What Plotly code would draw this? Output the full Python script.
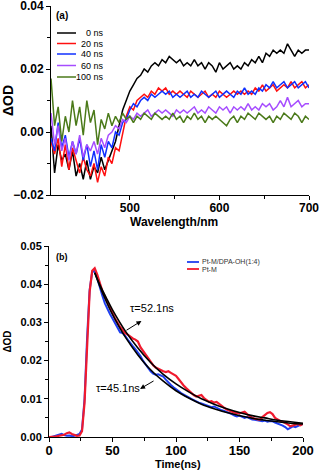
import plotly.graph_objects as go

# ---- panel (a): transient absorption spectra ----
wavelength = [412, 416, 420, 424, 428, 432, 436, 440, 444, 448, 452, 456, 460, 464, 468,
              472, 476, 480, 484, 488, 492, 496, 500, 504, 508, 512, 516, 520, 524, 528,
              532, 536, 540, 544, 548, 552, 556, 560, 564, 568, 572, 576, 580, 584, 588,
              592, 596, 600, 604, 608, 612, 616, 620, 624, 628, 632, 636, 640, 644, 648,
              652, 656, 660, 664, 668, 672, 676, 680, 684, 688, 692, 696, 700]

# delta OD in units of 1e-3
od_0ns = [2, -13, -4, -9, -7, -12, -6, -14, -10, -15, -9, -15, -11, -13, -8,
          -12, -9, -6, -3, 2, 7, 10, 13, 15, 17, 18, 20, 19, 21, 22,
          21, 23, 22, 24, 23, 22, 23, 21, 22, 21, 23, 21, 22, 20, 22,
          21, 19, 22, 20, 21, 22, 20, 21, 20, 22, 21, 23, 22, 24, 22,
          25, 24, 26, 25, 26, 25, 28, 26, 24, 26, 25, 26, 26]
od_20ns = [-3, -7, -2, -11, -4, -12, -5, -9, -13, -8, -12, -14, -10, -16, -11,
           -14, -8, -10, -5, -6, -1, 5, 8, 7, 10, 11, 12, 11, 13, 12,
           14, 13, 14, 12, 13, 12, 13, 12, 11, 13, 12, 11, 12, 13, 11,
           12, 11, 13, 12, 11, 12, 13, 12, 13, 12, 13, 12, 14, 13, 15,
           13, 14, 15, 13, 14, 15, 14, 16, 14, 15, 16, 14, 15]
od_40ns = [-2, -6, 3, -5, -1, -8, -3, -7, -2, -9, -4, -11, -6, -12, -4,
           -8, -3, -5, 0, -1, 3, 4, 7, 9, 8, 10, 11, 10, 12, 11,
           12, 13, 12, 13, 11, 12, 11, 12, 13, 11, 12, 11, 13, 12, 11,
           12, 13, 11, 12, 13, 12, 11, 13, 12, 14, 12, 13, 12, 14, 13,
           15, 14, 16, 14, 15, 16, 14, 15, 16, 14, 15, 16, 14]
od_60ns = [6, -4, 2, -6, -2, -9, -3, -7, -1, -8, -4, -6, -3, -7, -2,
           -5, -1, 0, 2, 1, 4, 3, 5, 4, 6, 5, 6, 7, 5, 6,
           7, 6, 7, 6, 5, 7, 6, 7, 6, 7, 8, 6, 7, 6, 8,
           7, 6, 8, 7, 8, 6, 8, 7, 8, 7, 9, 7, 8, 7, 9,
           8, 9, 7, 8, 10, 8, 11, 8, 9, 10, 8, 9, 9]
od_100ns = [17, 2, 8, -3, 5, 0, 10, 2, 8, -1, 10, 3, 7, -4, 4,
            1, 6, 2, 5, 3, 6, 4, 5, 3, 5, 4, 6, 5, 4, 6,
            5, 4, 5, 4, 6, 4, 5, 3, 5, 4, 6, 4, 5, 3, 5,
            4, 5, 4, 3, 2, 4, 5, 3, 5, 4, 6, 5, 4, 6, 5,
            4, 5, 3, 5, 4, 6, 5, 4, 6, 5, 3, 5, 4]

spectra = [od_0ns, od_20ns, od_40ns, od_60ns, od_100ns]
spectra_names = ['0 ns', '20 ns', '40 ns', '60 ns', '100 ns']
spectra_colors = ['#000000', '#ff1010', '#1030ff', '#a64dff', '#4b7a1a']

# ---- panel (b): kinetics ----
time_ns = list(range(0, 201, 2))
decay_ptm = [0.0000, 0.0000, 0.0001, 0.0002, 0.0003, 0.0004, 0.0006, 0.0010, 0.0012, 0.0008,
             0.0005, 0.0003, 0.0004, 0.0015, 0.0090, 0.0250, 0.0380, 0.0435, 0.0442, 0.0425,
             0.0400, 0.0382, 0.0368, 0.0352, 0.0338, 0.0325, 0.0310, 0.0298, 0.0288, 0.0280,
             0.0272, 0.0268, 0.0262, 0.0258, 0.0255, 0.0250, 0.0235, 0.0225, 0.0215, 0.0205,
             0.0195, 0.0188, 0.0182, 0.0178, 0.0175, 0.0172, 0.0170, 0.0172, 0.0168, 0.0165,
             0.0160, 0.0152, 0.0142, 0.0135, 0.0128, 0.0122, 0.0115, 0.0110, 0.0106, 0.0108,
             0.0110, 0.0102, 0.0096, 0.0092, 0.0094, 0.0090, 0.0092, 0.0086, 0.0080, 0.0076,
             0.0072, 0.0068, 0.0066, 0.0064, 0.0062, 0.0062, 0.0064, 0.0066, 0.0060, 0.0055,
             0.0050, 0.0048, 0.0046, 0.0045, 0.0052, 0.0058, 0.0063, 0.0065, 0.0060, 0.0050,
             0.0045, 0.0042, 0.0040, 0.0037, 0.0033, 0.0028, 0.0030, 0.0032, 0.0034, 0.0031,
             0.0035]
decay_ptm_dpa = [0.0000, 0.0000, 0.0002, 0.0004, 0.0006, 0.0008, 0.0005, 0.0003, 0.0004, 0.0002,
                 0.0003, 0.0006, 0.0008, 0.0020, 0.0100, 0.0260, 0.0385, 0.0432, 0.0435, 0.0415,
                 0.0390, 0.0370, 0.0350, 0.0335, 0.0322, 0.0310, 0.0298, 0.0285, 0.0274, 0.0272,
                 0.0265, 0.0255, 0.0245, 0.0238, 0.0230, 0.0222, 0.0212, 0.0200, 0.0190, 0.0180,
                 0.0172, 0.0166, 0.0163, 0.0164, 0.0162, 0.0158, 0.0150, 0.0142, 0.0136, 0.0130,
                 0.0126, 0.0120, 0.0115, 0.0112, 0.0108, 0.0104, 0.0100, 0.0096, 0.0094, 0.0090,
                 0.0088, 0.0086, 0.0082, 0.0080, 0.0078, 0.0080, 0.0076, 0.0072, 0.0070, 0.0068,
                 0.0066, 0.0063, 0.0060, 0.0056, 0.0054, 0.0056, 0.0052, 0.0050, 0.0052, 0.0048,
                 0.0046, 0.0045, 0.0044, 0.0042, 0.0041, 0.0043, 0.0040, 0.0042, 0.0041, 0.0038,
                 0.0036, 0.0034, 0.0030, 0.0026, 0.0020, 0.0024, 0.0028, 0.0026, 0.0030, 0.0032,
                 0.0034]

# exponential fits
fit_time = [36, 40, 45, 50, 60, 70, 80, 90, 100, 110, 120, 130, 140, 150, 160, 170, 180, 190, 200]
fit_52ns = [0.0430, 0.0399, 0.0365, 0.0333, 0.0278, 0.0233, 0.0195, 0.0164, 0.0139, 0.0118,
            0.0100, 0.0086, 0.0074, 0.0064, 0.0056, 0.0050, 0.0044, 0.0040, 0.0036]
fit_45ns = [0.0430, 0.0395, 0.0356, 0.0321, 0.0262, 0.0215, 0.0176, 0.0146, 0.0121, 0.0102,
            0.0086, 0.0074, 0.0064, 0.0056, 0.0049, 0.0044, 0.0040, 0.0036, 0.0034]

kin_names = ['Pt-M/DPA-OH(1:4)', 'Pt-M']
kin_colors = ['#1f3ff0', '#f01a2e']

W, H = 320, 472
FONT = 'Liberation Sans, Arial, sans-serif'


def px(x):
    return x / W


def py(y):
    return 1 - y / H


fig = go.Figure()

for vals, name, col in zip(spectra, spectra_names, spectra_colors):
    fig.add_trace(go.Scatter(x=wavelength, y=[v / 1000 for v in vals], mode='lines', name=name,
                             line=dict(color=col, width=1.5), xaxis='x', yaxis='y',
                             showlegend=False))

fig.add_trace(go.Scatter(x=time_ns, y=decay_ptm_dpa, mode='lines', name=kin_names[0],
                         line=dict(color=kin_colors[0], width=2), xaxis='x2', yaxis='y2',
                         showlegend=False))
fig.add_trace(go.Scatter(x=time_ns, y=decay_ptm, mode='lines', name=kin_names[1],
                         line=dict(color=kin_colors[1], width=2.2), xaxis='x2', yaxis='y2',
                         showlegend=False))
for f in [fit_52ns, fit_45ns]:
    fig.add_trace(go.Scatter(x=fit_time, y=f, mode='lines', line=dict(color='black', width=1.6),
                             line_shape='spline', xaxis='x2', yaxis='y2', showlegend=False))

ax_common = dict(showline=True, linecolor='black', linewidth=1, showgrid=False, zeroline=False,
                 ticks='outside', ticklen=4, tickwidth=1, tickcolor='black', automargin=False,
                 ticklabeloverflow='allow')

fig.update_layout(
    width=W, height=H, margin=dict(l=0, r=0, t=0, b=0),
    paper_bgcolor='white', plot_bgcolor='white',
    font=dict(family=FONT, color='black'),
    xaxis=dict(ax_common, domain=[px(51), px(309)], range=[412, 700], dtick=100,
               minor=dict(dtick=50, ticks='outside', ticklen=3, tickcolor='black'),
               tickfont=dict(size=12, weight='bold'), ticklabelstandoff=-2, anchor='y'),
    yaxis=dict(ax_common, domain=[py(195), py(6)], range=[-0.02, 0.04001], dtick=0.02,
               tickformat='.2f',
               minor=dict(dtick=0.01, ticks='outside', ticklen=3, tickcolor='black'),
               tickfont=dict(size=12, weight='bold'),
               title=dict(text='ΔOD', font=dict(size=14, weight='bold'), standoff=4),
               anchor='x'),
    xaxis2=dict(ax_common, domain=[px(49), px(303)], range=[0, 200], dtick=50,
                minor=dict(dtick=25, ticks='outside', ticklen=3, tickcolor='black'),
                tickfont=dict(size=13, weight='bold'), ticklabelstandoff=-3, anchor='y2'),
    yaxis2=dict(ax_common, domain=[py(437), py(246)], range=[0, 0.05001], dtick=0.01,
                tickformat='.2f',
                minor=dict(dtick=0.005, ticks='outside', ticklen=3, tickcolor='black'),
                tickfont=dict(size=11, weight='bold'),
                title=dict(text='ΔOD', font=dict(size=10, weight='bold'), standoff=6),
                anchor='x2'),
)

# x-axis titles
fig.add_annotation(text='<b>Wavelength/nm</b>', xref='paper', yref='paper', x=px(174), y=py(222),
                   xanchor='center', yanchor='middle', showarrow=False, font=dict(size=12))
fig.add_annotation(text='<b>Time(ns)</b>', xref='paper', yref='paper', x=px(178), y=py(464),
                   xanchor='center', yanchor='middle', showarrow=False, font=dict(size=11))

# panel labels
fig.add_annotation(text='<b>(a)</b>', xref='paper', yref='paper', x=px(54), y=py(15),
                   xanchor='left', yanchor='middle', showarrow=False, font=dict(size=10))
fig.add_annotation(text='<b>(b)</b>', xref='paper', yref='paper', x=px(54), y=py(257),
                   xanchor='left', yanchor='middle', showarrow=False, font=dict(size=9))

# legend (a)
row_y = [33, 43.5, 54, 65.5, 77]
for name, col, ry in zip(spectra_names, spectra_colors, row_y):
    fig.add_shape(type='line', xref='paper', yref='paper', x0=px(57), x1=px(76),
                  y0=py(ry), y1=py(ry), line=dict(color=col, width=1.5))
    fig.add_annotation(text=name, xref='paper', yref='paper', x=px(106), y=py(ry),
                       xanchor='right', yanchor='middle', showarrow=False, font=dict(size=9))

# legend (b)
for name, col, ry in zip(kin_names, kin_colors, [262, 269]):
    fig.add_shape(type='line', xref='paper', yref='paper', x0=px(187), x1=px(199),
                  y0=py(ry), y1=py(ry), line=dict(color=col, width=1.8))
    fig.add_annotation(text=name, xref='paper', yref='paper', x=px(200), y=py(ry),
                       xanchor='left', yanchor='middle', showarrow=False,
                       font=dict(size=7, color='#333333'))

# lifetime labels and arrows
fig.add_annotation(text='τ=52.1ns', xref='x2', yref='y2', x=80.8, y=0.0337, showarrow=False,
                   font=dict(size=11))
fig.add_annotation(text='τ=45.1ns', xref='x2', yref='y2', x=54.6, y=0.0129, showarrow=False,
                   font=dict(size=11))
fig.add_annotation(text='', xref='x2', yref='y2', x=72.8, y=0.0304, axref='x2', ayref='y2',
                   ax=59.8, ay=0.0277, showarrow=True, arrowhead=2, arrowsize=1, arrowwidth=1,
                   arrowcolor='black')
fig.add_annotation(text='', xref='x2', yref='y2', x=71.7, y=0.0126, axref='x2', ayref='y2',
                   ax=83.5, ay=0.0149, showarrow=True, arrowhead=2, arrowsize=1, arrowwidth=1,
                   arrowcolor='black')

# drop the browser's default body margin so the figure sits at the page origin
fig.write_html('out.html', config={'displayModeBar': False},
               post_script="document.body.style.margin='0';")
